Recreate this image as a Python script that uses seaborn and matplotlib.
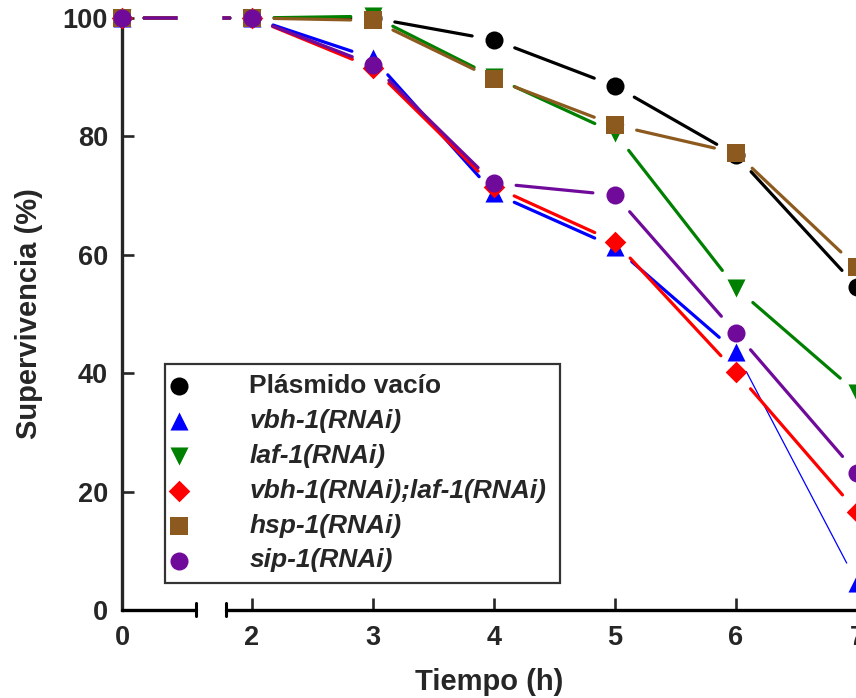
import numpy as np
import pandas as pd
import seaborn as sns
import matplotlib.pyplot as plt

# data
tiempo = [0, 2, 3, 4, 5, 6, 7]
plasmido = [100, 100, 100, 96.3, 88.5, 76.8, 54.6]
vbh1 = [100, 100, 93.2, 70.4, 61.3, 43.6, 4.6]
laf1 = [100, 100, 100.3, 90.0, 80.6, 54.4, 36.7]
vbh1_laf1 = [100, 100, 91.6, 71.5, 62.2, 40.2, 16.6]
hsp1 = [100, 100, 99.6, 89.7, 81.9, 77.2, 57.9]
sip1 = [100, 100, 92.1, 72.1, 70.1, 46.8, 23.1]

labels = ["Plásmido vacío", "vbh-1(RNAi)", "laf-1(RNAi)",
          "vbh-1(RNAi);laf-1(RNAi)", "hsp-1(RNAi)", "sip-1(RNAi)"]
series = [plasmido, vbh1, laf1, vbh1_laf1, hsp1, sip1]
colors = ["black", "#0000FF", "#008000", "#FF0000", "#8C5A1E", "#6F0A9B"]
markers = ["o", "^", "v", "D", "s", "o"]
msizes = [13, 13, 13, 11, 13, 13]

sns.set_style("ticks")
plt.rcParams["font.family"] = ["Liberation Sans", "DejaVu Sans"]
plt.rcParams["font.weight"] = "bold"

df = pd.DataFrame({
    "tiempo": np.tile(tiempo, len(series)),
    "superv": np.concatenate(series),
    "grupo": np.repeat(labels, len(tiempo)),
})

# broken x axis between 0 and 2
K = 0.25 / 1.176

def fwd(x):
    x = np.asarray(x, float)
    return np.where(x < 0.61, x, np.where(x < 1.786, 0.61 + (x - 0.61) * K, x - 0.926))

def inv(u):
    u = np.asarray(u, float)
    return np.where(u < 0.61, u, np.where(u < 0.86, 0.61 + (u - 0.61) / K, u + 0.926))

fig = plt.figure(figsize=(8.56, 6.98), dpi=100)
ax = fig.add_axes([0.1425, 0.1261, 0.8587, 0.8481])
ax.set_xscale("function", functions=(fwd, inv))
ax.set_xlim(0, 7)
ax.set_ylim(0, 100)

for i, lab in enumerate(labels):
    d = df[df["grupo"] == lab]
    xs = d["tiempo"].tolist()
    ys = d["superv"].tolist()
    # connecting segments with gaps around the markers
    for j in range(len(xs) - 1):
        lw = 2.3
        if lab == "vbh-1(RNAi)" and j == len(xs) - 2:
            lw = 0.9
        ax.annotate("", xy=(xs[j + 1], ys[j + 1]), xytext=(xs[j], ys[j]),
                    arrowprops=dict(arrowstyle="-", color=colors[i], lw=lw,
                                    shrinkA=16, shrinkB=16),
                    annotation_clip=False, zorder=2)
    sns.scatterplot(data=d, x="tiempo", y="superv", ax=ax, color=colors[i],
                    marker=markers[i], s=msizes[i] ** 2, linewidth=0,
                    label=lab, clip_on=False, zorder=4)

# white gap across the axis break
ax.axvspan(0.46, 1.59, ymin=0.95, ymax=1.03, color="white", zorder=3, clip_on=False)

# axes styling
for side in ["top", "right", "bottom"]:
    ax.spines[side].set_visible(False)
ax.spines["left"].set_linewidth(2.4)
ax.plot([0, 0.61], [0, 0], color="black", lw=2.4, clip_on=False, zorder=5)
ax.plot([1.786, 7.2], [0, 0], color="black", lw=2.4, clip_on=False, zorder=5)
for xb in [0.61, 1.786]:
    ax.plot([xb, xb], [-1.1, 1.1], color="black", lw=2.2, clip_on=False, zorder=5)

ax.set_xticks(tiempo)
ax.set_xticklabels([str(t) for t in tiempo])
ax.set_yticks([0, 20, 40, 60, 80, 100])
ax.tick_params(axis="both", direction="in", length=8.5, width=1.9, labelsize=19.5)
ax.tick_params(axis="x", pad=11)
ax.tick_params(axis="y", pad=10)
for t in ax.get_xticklabels() + ax.get_yticklabels():
    t.set_fontweight("bold")

ax.set_xlabel("Tiempo (h)", fontsize=21, fontweight="bold", labelpad=12)
ax.set_ylabel("Supervivencia (%)", fontsize=21, fontweight="bold", labelpad=14)

handles, labs = ax.get_legend_handles_labels()
leg = ax.legend(handles, labs, loc="lower left",
                bbox_to_anchor=(0.0585, 0.0456, 0.5374, 0.378), mode="expand",
                frameon=True, fancybox=False, edgecolor="black", fontsize=19,
                borderpad=0.4, handlelength=0.3, handletextpad=2.5,
                labelspacing=0.41, borderaxespad=0)
leg.get_frame().set_linewidth(1.6)
leg.set_zorder(6)
for k, t in enumerate(leg.get_texts()):
    t.set_fontweight("bold")
    if k > 0:
        t.set_fontstyle("italic")

fig.savefig("out.png", dpi=100)
